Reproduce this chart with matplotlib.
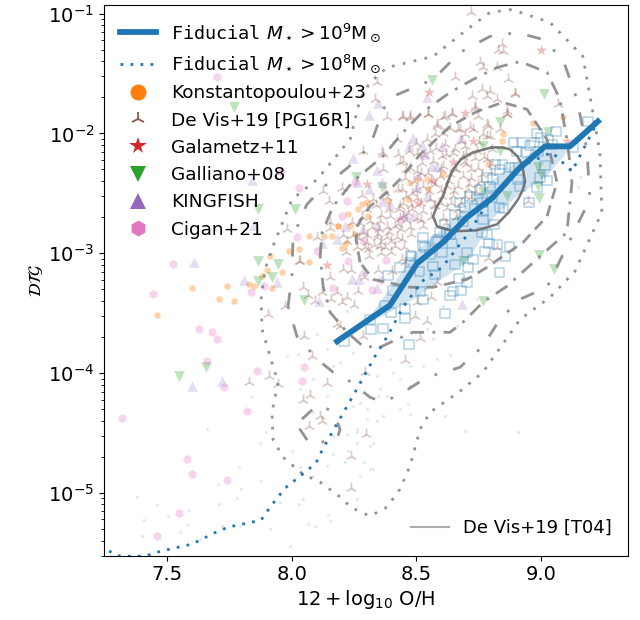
import numpy as np
import matplotlib
matplotlib.use('Agg')
import matplotlib.pyplot as plt
from matplotlib.lines import Line2D

# all points are (12+log10 O/H, log10 DTG)

fid9_x = [8.182, 8.394, 8.503, 8.607, 8.703, 8.807, 8.908, 9.016, 9.116, 9.228]
fid9_y = [-3.735, -3.434, -3.084, -2.909, -2.70, -2.534, -2.30, -2.108, -2.108, -1.90]

band_x = [8.302, 8.394, 8.503, 8.607, 8.703, 8.807, 8.908, 9.016, 9.116]
band_hi = [-3.551, -3.284, -2.967, -2.784, -2.592, -2.384, -2.217, -2.092, -2.108]
band_lo = [-3.585, -3.485, -3.359, -3.201, -3.068, -2.70, -2.509, -2.367, -2.117]

fid8_x = [7.267, 7.312, 7.412, 7.476, 7.600, 7.688, 7.745, 7.877, 7.913, 7.973, 8.048, 8.097, 8.126, 8.174,
          8.254, 8.334, 8.386, 8.446, 8.523, 8.603, 8.703, 8.775, 8.855, 8.936, 9.044, 9.124, 9.184, 9.228]
fid8_y = [-5.486, -5.528, -5.528, -5.486, -5.428, -5.336, -5.286, -5.228, -5.119, -4.961, -4.836, -4.752, -4.627, -4.452,
          -4.160, -3.860, -3.685, -3.451, -3.234, -3.118, -2.851, -2.617, -2.425, -2.259, -2.158, -2.317, -2.075, -1.90]

# De Vis+19 [T04] density contours, outermost first
contour_1 = [(7.877, -3.384), (7.893, -3.134), (7.925, -2.942), (8.001, -2.550), (8.102, -2.384), (8.234, -2.050),
             (8.274, -1.716), (8.314, -1.575), (8.382, -1.450), (8.567, -1.358), (8.703, -1.133), (8.795, -0.991),
             (8.883, -0.966), (9.036, -1.074), (9.168, -1.358), (9.208, -1.825), (9.236, -2.158), (9.244, -2.659),
             (9.136, -3.151), (9.036, -3.368), (8.916, -3.551), (8.875, -3.676), (8.767, -3.993), (8.675, -4.152),
             (8.555, -4.327), (8.515, -4.469), (8.474, -4.777), (8.434, -4.969), (8.382, -5.119), (8.314, -5.194),
             (8.234, -5.119), (8.206, -5.052), (8.114, -4.911), (8.045, -4.844), (7.965, -4.702), (7.925, -4.552),
             (7.921, -4.327), (7.945, -4.077), (7.925, -3.943), (7.881, -3.635), (7.877, -3.384)]
contour_2 = [(7.985, -3.443), (8.001, -3.193), (8.005, -2.884), (8.033, -2.717), (8.061, -2.592), (8.126, -2.450),
             (8.226, -2.284), (8.314, -2.108), (8.366, -1.800), (8.406, -1.691), (8.567, -1.550), (8.675, -1.324),
             (8.795, -1.191), (8.904, -1.158), (9.008, -1.216), (9.088, -1.383), (9.144, -1.716), (9.184, -2.133),
             (9.196, -2.550), (9.104, -2.942), (9.024, -3.284), (8.916, -3.384), (8.835, -3.551), (8.767, -3.776),
             (8.675, -3.952), (8.543, -4.035), (8.434, -4.177), (8.366, -4.243), (8.314, -4.202), (8.222, -4.052),
             (8.166, -3.993), (8.102, -3.885), (8.021, -3.693), (7.985, -3.443)]
contour_2b = [(8.041, -4.385), (8.102, -4.268), (8.166, -4.319), (8.194, -4.469), (8.182, -4.552), (8.073, -4.594),
              (8.033, -4.469), (8.041, -4.385)]
contour_3 = [(8.114, -3.026), (8.122, -2.826), (8.166, -2.609), (8.246, -2.400), (8.366, -2.192), (8.446, -1.992),
             (8.523, -1.825), (8.635, -1.658), (8.727, -1.550), (8.823, -1.450), (8.916, -1.400), (9.024, -1.491),
             (9.076, -1.716), (9.108, -2.108), (9.124, -2.409), (9.104, -2.826), (8.996, -3.026), (8.863, -3.276),
             (8.767, -3.409), (8.687, -3.576), (8.635, -3.660), (8.486, -3.660), (8.422, -3.718), (8.354, -3.785),
             (8.286, -3.776), (8.222, -3.660), (8.154, -3.493), (8.126, -3.276), (8.114, -3.026)]
contour_4 = [(8.274, -3.076), (8.258, -2.884), (8.266, -2.759), (8.314, -2.609), (8.382, -2.492), (8.434, -2.384),
             (8.515, -2.175), (8.635, -1.942), (8.743, -1.817), (8.847, -1.741), (8.944, -1.800), (9.024, -2.050),
             (9.064, -2.409), (9.024, -2.692), (8.928, -2.909), (8.783, -3.118), (8.703, -3.218), (8.567, -3.284),
             (8.474, -3.284), (8.326, -3.218), (8.274, -3.076)]
contour_5 = [(8.803, -2.117), (8.845, -2.118), (8.875, -2.133), (8.905, -2.190), (8.924, -2.259), (8.936, -2.400),
             (8.925, -2.480), (8.908, -2.550), (8.870, -2.660), (8.823, -2.759), (8.743, -2.809), (8.647, -2.817),
             (8.583, -2.776), (8.567, -2.692), (8.582, -2.610), (8.607, -2.525), (8.625, -2.410), (8.647, -2.300),
             (8.680, -2.215), (8.727, -2.158), (8.803, -2.117)]

cigan = [(7.700, -1.533), (7.957, -2.325), (8.029, -2.459), (8.222, -2.567), (8.202, -2.692), (8.021, -2.867),
         (8.102, -2.984), (7.524, -3.093), (8.226, -3.068), (8.378, -3.059), (8.358, -3.226), (7.837, -3.326),
         (7.889, -3.276), (7.444, -3.343), (8.166, -3.293), (8.322, -3.309), (7.628, -3.635), (7.680, -3.660),
         (7.700, -3.718), (7.660, -3.902), (7.861, -3.985), (8.049, -3.952), (8.041, -4.068), (7.729, -4.118),
         (7.320, -4.377), (7.821, -4.319), (7.580, -4.719), (7.600, -4.844), (7.741, -4.894), (7.548, -5.169),
         (7.460, -5.361), (8.254, -2.409), (8.434, -2.717), (8.286, -2.901)]

kingfish = [(8.310, -1.850), (8.346, -1.750), (8.543, -1.700), (8.246, -2.209), (8.262, -2.409), (8.342, -2.309),
            (8.362, -2.409), (8.310, -2.467), (8.394, -2.592), (8.362, -2.567), (8.486, -2.042), (8.470, -2.108),
            (8.523, -2.100), (8.603, -2.108), (8.679, -2.042), (8.535, -2.175), (8.563, -2.275), (8.583, -2.275),
            (8.507, -2.350), (8.503, -2.450), (8.543, -2.525), (8.486, -2.692), (8.454, -2.675), (7.841, -2.392),
            (7.849, -2.767), (7.608, -3.076), (7.809, -3.226), (7.941, -3.243), (8.122, -2.917), (8.182, -2.884),
            (8.214, -2.776), (8.286, -2.801), (8.342, -2.767), (8.242, -3.218), (8.270, -3.218), (8.286, -3.151),
            (8.342, -3.293), (8.110, -3.401), (7.600, -4.110), (7.721, -4.068), (8.683, -3.426)]

galliano = [(7.769, -1.783), (7.865, -2.634), (8.013, -2.634), (7.865, -3.068), (7.945, -3.093), (7.921, -3.201),
            (7.865, -3.234), (8.049, -3.393), (8.258, -2.367), (8.362, -2.450), (8.563, -1.558), (9.012, -1.675),
            (8.835, -1.908), (9.028, -1.992), (8.767, -2.108), (8.835, -2.150), (8.988, -2.284), (9.000, -2.342),
            (8.988, -2.442), (8.992, -2.542), (8.863, -2.525), (8.767, -2.492), (8.687, -3.068), (8.992, -3.017),
            (9.052, -3.134), (8.767, -3.401), (7.548, -4.027), (7.656, -3.952)]

galametz = [(8.142, -3.101), (8.302, -2.425), (8.551, -1.658), (8.695, -1.833), (8.727, -2.067), (8.647, -2.242),
            (8.567, -2.400), (8.507, -2.584), (9.000, -1.308), (9.104, -2.067)]

konst = [(9.088, -1.867), (8.968, -1.917), (8.847, -2.008), (8.843, -2.067), (8.787, -2.259), (8.607, -2.342),
         (8.547, -2.467), (8.543, -2.384), (8.474, -2.417), (8.507, -2.384), (8.466, -2.550), (8.386, -2.567),
         (8.282, -2.592), (8.302, -2.575), (8.266, -2.634), (8.226, -2.675), (8.306, -2.692), (8.254, -2.842),
         (8.186, -2.776), (8.186, -2.776), (8.234, -2.776), (8.162, -2.859), (8.130, -2.859), (8.069, -2.859),
         (8.202, -2.959), (8.218, -2.917), (7.989, -2.984), (8.029, -2.967), (8.069, -3.076), (7.913, -3.026),
         (7.881, -3.193), (7.961, -3.159), (7.901, -3.143), (7.921, -3.293), (7.829, -3.259), (7.849, -3.276),
         (7.741, -3.276), (7.600, -3.293), (7.709, -3.384), (7.769, -3.401), (7.460, -3.518)]

fid_squares = [(8.210, -3.735), (8.318, -3.635), (8.366, -3.626), (8.470, -3.760), (8.314, -3.551), (8.374, -3.434),
               (8.398, -3.493), (8.454, -3.543), (8.454, -3.459), (8.406, -3.309), (8.386, -3.184), (8.434, -3.118),
               (8.515, -3.318), (8.527, -3.384), (8.615, -3.501), (8.635, -3.351), (8.647, -3.318), (8.679, -3.309),
               (8.671, -3.209), (8.703, -3.243), (8.835, -3.159), (8.707, -3.118), (8.727, -3.051), (8.655, -3.093),
               (8.703, -2.992), (8.775, -2.984), (8.791, -2.917), (8.823, -2.926), (8.875, -2.942), (8.859, -3.026),
               (8.511, -3.151), (8.575, -3.176), (8.478, -3.076), (8.478, -3.017), (8.567, -3.109), (8.603, -2.992),
               (8.643, -2.917), (8.579, -2.901), (8.527, -2.934), (8.527, -2.867), (8.595, -2.826), (8.615, -2.759),
               (8.687, -2.734), (8.763, -2.826), (8.783, -2.842), (8.767, -2.717), (8.811, -2.759), (8.555, -3.009),
               (8.635, -2.842), (8.655, -2.675), (8.695, -2.617), (8.715, -2.525), (8.743, -2.550), (8.767, -2.651),
               (8.835, -2.617), (8.851, -2.625), (8.783, -2.367), (8.815, -2.259), (8.847, -2.259), (8.807, -2.384),
               (8.755, -2.467), (8.795, -2.442), (8.835, -2.300), (8.875, -2.284), (8.675, -2.575), (8.763, -2.575),
               (8.803, -2.534), (8.908, -2.384), (8.916, -2.442), (8.895, -2.284), (8.891, -2.075), (8.924, -2.075),
               (8.956, -2.100), (8.940, -2.158), (8.904, -2.150), (8.988, -2.150), (8.972, -2.075), (8.984, -2.000),
               (9.000, -2.033), (9.028, -2.050), (9.044, -2.092), (9.060, -1.983), (9.188, -1.900), (9.128, -2.117),
               (9.016, -2.267), (8.996, -2.367), (9.024, -2.392), (8.984, -2.450), (8.952, -2.575), (8.482, -3.026),
               (8.535, -2.951), (8.587, -2.884), (8.623, -2.826)]

devis = [(8.719, -0.991), (8.843, -1.258), (8.827, -1.300), (8.847, -1.316), (8.755, -1.400), (8.767, -1.450),
         (8.823, -1.450), (8.867, -1.550), (8.655, -1.533), (8.342, -1.575), (8.334, -1.716), (8.763, -1.633),
         (8.723, -1.691), (8.795, -1.650), (8.823, -1.716), (8.895, -1.675), (8.863, -1.817), (9.068, -1.758),
         (8.382, -1.867), (8.442, -1.867), (8.474, -1.858), (8.547, -1.842), (8.607, -1.867), (8.643, -1.842),
         (8.735, -1.775), (8.783, -1.925), (8.583, -1.942), (8.667, -1.967), (8.715, -1.950), (8.767, -2.008),
         (8.795, -2.025), (8.863, -1.842), (8.286, -2.150), (8.202, -2.459), (8.033, -3.068), (8.154, -2.742),
         (8.102, -2.867), (7.981, -2.801), (8.422, -2.050), (8.366, -2.175), (8.426, -2.175), (8.126, -2.484),
         (8.150, -2.567), (8.282, -2.517), (8.374, -2.492), (8.154, -2.792), (8.029, -3.068), (8.218, -2.992),
         (8.206, -3.134), (8.238, -3.143), (8.154, -3.201), (8.290, -3.201), (8.346, -3.143), (8.402, -3.151),
         (8.045, -3.284), (8.065, -3.351), (8.122, -3.326), (8.182, -3.326), (8.266, -3.318), (8.222, -3.368),
         (8.158, -3.384), (8.202, -3.409), (8.250, -3.434), (7.973, -3.443), (8.094, -3.401), (8.194, -3.610),
         (8.049, -3.693), (8.286, -3.693), (8.206, -2.851), (8.246, -2.851), (8.294, -2.951), (8.342, -2.867),
         (8.354, -2.942), (8.382, -2.867), (8.414, -2.942), (8.286, -2.826), (8.274, -2.751), (8.314, -2.734),
         (8.382, -2.784), (8.426, -2.759), (8.302, -2.909), (8.306, -2.967), (8.374, -2.951), (8.422, -2.867),
         (7.905, -3.509), (7.909, -4.027), (7.829, -4.077), (7.945, -4.093), (8.081, -3.860), (8.142, -4.085),
         (8.294, -3.993), (8.045, -4.227), (8.073, -4.185), (8.114, -4.360), (8.122, -4.402), (8.069, -4.444),
         (8.298, -4.510), (8.238, -4.694), (8.238, -4.961), (8.182, -3.593), (8.515, -3.710), (8.454, -3.893),
         (8.787, -3.042), (8.823, -2.951), (8.583, -3.243), (8.559, -3.368), (8.503, -3.409), (8.495, -3.526),
         (8.543, -3.568), (8.454, -3.076), (8.948, -2.567), (8.447, -1.855), (8.474, -1.869), (8.548, -1.842),
         (8.581, -1.925), (8.641, -1.828), (8.614, -1.855), (8.735, -1.786), (8.782, -1.689), (8.895, -1.661),
         (8.862, -1.842), (8.748, -1.855), (8.835, -1.967), (8.788, -1.939), (8.728, -1.967), (8.782, -2.022),
         (8.695, -2.008), (8.635, -1.953), (8.675, -1.967), (8.608, -1.994), (8.574, -2.008), (8.541, -2.050),
         (8.447, -2.231), (8.501, -2.161), (8.554, -2.147), (8.614, -2.092), (8.655, -2.133), (8.695, -2.106),
         (8.742, -2.147), (8.802, -2.133), (8.601, -2.189), (8.648, -2.161), (8.688, -2.189), (8.735, -2.203),
         (8.782, -2.217), (8.568, -2.231), (8.474, -2.286), (8.521, -2.245), (8.608, -2.272), (8.655, -2.300),
         (8.701, -2.259), (8.748, -2.286), (8.802, -2.259), (8.454, -2.370), (8.501, -2.314), (8.548, -2.328),
         (8.594, -2.356), (8.635, -2.342), (8.688, -2.356), (8.721, -2.370), (8.762, -2.342), (8.441, -2.467),
         (8.481, -2.495), (8.528, -2.439), (8.574, -2.425), (8.621, -2.439), (8.668, -2.439), (8.708, -2.467),
         (8.748, -2.425), (8.447, -2.578), (8.501, -2.537), (8.554, -2.550), (8.601, -2.523), (8.648, -2.523),
         (8.695, -2.523), (8.467, -2.662), (8.528, -2.648), (8.574, -2.606), (8.621, -2.620), (8.668, -2.634),
         (8.501, -2.703), (8.434, -2.703), (8.608, -2.703), (8.362, -2.158), (8.434, -2.242), (8.366, -2.300),
         (8.426, -2.467), (8.382, -2.534), (8.326, -2.550), (8.434, -2.609), (8.394, -2.692), (8.354, -2.734),
         (8.414, -2.776), (8.346, -2.842), (8.446, -2.692), (8.482, -2.634), (8.474, -2.784), (8.527, -2.776),
         (8.442, -2.884), (8.442, -3.051), (8.46, -2.30), (8.49, -2.40), (8.52, -2.33), (8.56, -2.40), (8.60, -2.30),
         (8.63, -2.40), (8.66, -2.30), (8.69, -2.24), (8.72, -2.30), (8.77, -2.20), (8.80, -2.32), (8.76, -2.40),
         (8.71, -2.42), (8.65, -2.48), (8.60, -2.47), (8.55, -2.48), (8.50, -2.47), (8.46, -2.52), (8.48, -2.60),
         (8.52, -2.58), (8.57, -2.60), (8.60, -2.58), (8.64, -2.58), (8.68, -2.58), (8.72, -2.53), (8.74, -2.48),
         (8.66, -2.70), (8.62, -2.75), (8.56, -2.70), (8.52, -2.72), (8.46, -2.72), (8.43, -2.63), (8.39, -2.63),
         (8.36, -2.68), (8.32, -2.78), (8.35, -2.80), (8.39, -2.82), (8.44, -2.80), (8.48, -2.84), (8.40, -2.90),
         (8.36, -2.91), (8.33, -2.93), (8.30, -2.85), (8.27, -2.87), (8.26, -2.95), (8.31, -3.02), (8.36, -3.00),
         (8.40, -2.99), (8.45, -2.95), (8.28, -2.70), (8.24, -2.74), (8.22, -2.90), (8.34, -2.60), (8.30, -2.63),
         (8.58, -2.12), (8.62, -2.17), (8.70, -2.16), (8.75, -2.07), (8.68, -2.06), (8.50, -2.08), (8.53, -2.18),
         (8.47, -2.15)]

fid_dots = [(7.378, -5.033), (7.409, -5.230), (7.401, -5.364), (7.461, -5.099), (7.503, -5.197), (7.552, -5.330),
            (7.579, -5.269), (7.586, -5.141), (7.706, -4.924), (7.710, -5.097), (7.780, -5.041), (7.787, -4.783),
            (7.795, -4.969), (7.877, -4.902), (7.873, -4.580), (7.659, -4.468), (7.837, -4.204), (7.897, -4.488),
            (8.000, -4.649), (8.030, -5.097), (8.047, -5.052), (8.067, -5.261), (8.094, -5.275), (8.147, -5.186),
            (8.154, -5.233), (7.993, -5.441), (7.913, -5.302), (7.953, -5.080), (7.719, -5.275), (7.632, -5.386),
            (7.793, -5.275), (7.980, -3.857), (8.027, -3.843), (8.034, -4.135), (8.100, -3.676), (8.221, -3.482),
            (8.247, -3.829), (8.140, -3.801), (8.167, -3.940), (8.194, -3.912), (8.087, -4.051), (8.140, -4.190),
            (8.087, -4.329), (8.167, -4.524), (8.221, -4.510), (8.261, -4.496), (8.261, -4.580), (8.227, -4.649),
            (8.167, -4.677), (8.140, -4.774), (8.087, -4.858), (8.214, -4.746), (8.288, -4.746), (8.314, -4.802),
            (8.328, -4.580), (8.341, -4.399), (8.247, -4.274), (8.301, -4.302), (8.034, -4.788), (8.007, -4.774),
            (8.348, -4.190), (8.635, -3.851), (8.695, -4.482), (8.909, -4.496), (8.615, -4.357), (8.475, -4.343),
            (8.368, -4.357), (8.381, -4.190), (8.435, -4.051), (8.408, -3.996), (8.341, -4.024), (8.394, -3.885),
            (8.261, -4.468), (8.301, -4.385), (8.328, -4.802), (8.314, -4.607), (8.274, -4.858), (8.261, -5.052),
            (8.354, -4.135), (8.274, -4.246), (8.475, -4.107), (8.528, -3.940), (8.582, -3.885), (8.475, -3.940),
            (8.568, -3.718), (8.542, -3.634), (8.662, -3.607), (8.608, -3.440), (8.742, -3.384), (8.435, -4.302),
            (8.468, -4.260), (9.156, -2.367), (9.148, -2.450)]

xticks = [7.5, 8.0, 8.5, 9.0]


def xy(points):
    arr = np.array(points)
    return arr[:, 0], 10.0 ** arr[:, 1]


fig = plt.figure(figsize=(6.4, 6.2), dpi=100)
ax = fig.add_axes([0.1625, 0.104, 0.8188, 0.888])
ax.set_yscale('log')

# observations
ax.scatter(*xy(fid_dots), s=6, marker='h', color='tab:blue', alpha=0.15, linewidths=0)
ax.scatter(*xy(konst), s=22, marker='o', color='tab:orange', alpha=0.35, linewidths=0)
ax.scatter(*xy(devis), s=70, marker='2', color='tab:brown', alpha=0.32, linewidths=1.2)
ax.scatter(*xy(galametz), s=70, marker='*', color='tab:red', alpha=0.3, linewidths=0)
ax.scatter(*xy(galliano), s=60, marker='v', color='tab:green', alpha=0.3, linewidths=0)
ax.scatter(*xy(kingfish), s=60, marker='^', color='tab:purple', alpha=0.22, linewidths=0)
ax.scatter(*xy(cigan), s=42, marker='h', color='tab:pink', alpha=0.3, linewidths=0)
ax.scatter(*xy(fid_squares), s=44, marker='s', facecolors='none', edgecolors='tab:blue', alpha=0.33, linewidths=1.1)

# density contours
ax.plot(*xy(contour_1), color='grey', alpha=0.85, lw=2, ls=(0, (1, 3)))
ax.plot(*xy(contour_2), color='grey', alpha=0.85, lw=2, ls=(0, (5, 6, 1, 6)))
ax.plot(*xy(contour_2b), color='grey', alpha=0.85, lw=2, ls=(0, (5, 6, 1, 6)))
ax.plot(*xy(contour_3), color='grey', alpha=0.85, lw=2, ls=(0, (5, 3, 1, 3)))
ax.plot(*xy(contour_4), color='grey', alpha=0.85, lw=2, ls=(0, (4, 2.5)))
ax.plot(*xy(contour_5), color='dimgrey', alpha=0.9, lw=1.8)

# simulation
ax.fill_between(band_x, 10.0 ** np.array(band_lo), 10.0 ** np.array(band_hi), color='tab:blue', alpha=0.2, linewidth=0)
ax.plot(fid8_x, 10.0 ** np.array(fid8_y), color='tab:blue', lw=2, ls=(0, (1, 2.6)))
ax.plot(fid9_x, 10.0 ** np.array(fid9_y), color='tab:blue', lw=4.2)

ax.set_xlim(7.247, 9.349)
ax.set_ylim(3e-6, 0.118)
ax.set_xticks(xticks)
ax.set_xticklabels([str(t) for t in xticks])
ax.tick_params(axis='both', which='major', labelsize=14)
ax.set_xlabel(r'$12 + \log_{10}\,{\rm O/H}$', fontsize=14, labelpad=3)
ax.set_ylabel(r'$\mathcal{DTG}$', fontsize=12, labelpad=2)

handles = [
    Line2D([], [], color='tab:blue', lw=4.2),
    Line2D([], [], color='tab:blue', lw=2, ls=(0, (1, 2.6))),
    Line2D([], [], color='tab:orange', marker='o', ls='', ms=10.5),
    Line2D([], [], color='tab:brown', marker='2', ls='', ms=10, mew=1.3),
    Line2D([], [], color='tab:red', marker='*', ls='', ms=13, mew=0),
    Line2D([], [], color='tab:green', marker='v', ls='', ms=11.5, mew=0),
    Line2D([], [], color='tab:purple', marker='^', ls='', ms=11.5, mew=0),
    Line2D([], [], color='tab:pink', marker='h', ls='', ms=11.5, mew=0),
]
labels = [
    r'$\mathtt{Fiducial}\ M_\star > 10^{9}{\rm M}_\odot$',
    r'$\mathtt{Fiducial}\ M_\star > 10^{8}{\rm M}_\odot$',
    'Konstantopoulou+23',
    'De Vis+19 [PG16R]',
    'Galametz+11',
    'Galliano+08',
    'KINGFISH',
    'Cigan+21',
]
leg = ax.legend(handles, labels, loc='upper left', frameon=False, fontsize=13.3,
                handlelength=2.0, handletextpad=0.81, labelspacing=0.5,
                borderaxespad=0.3, bbox_to_anchor=(0.005, 0.994))
ax.add_artist(leg)

ax.legend([Line2D([], [], color='grey', alpha=0.65, lw=1.5)], ['De Vis+19 [T04]'], loc='lower right',
          frameon=False, fontsize=13, handlelength=2.1, bbox_to_anchor=(1.0, 0.004))

fig.savefig('out.png', dpi=100)
